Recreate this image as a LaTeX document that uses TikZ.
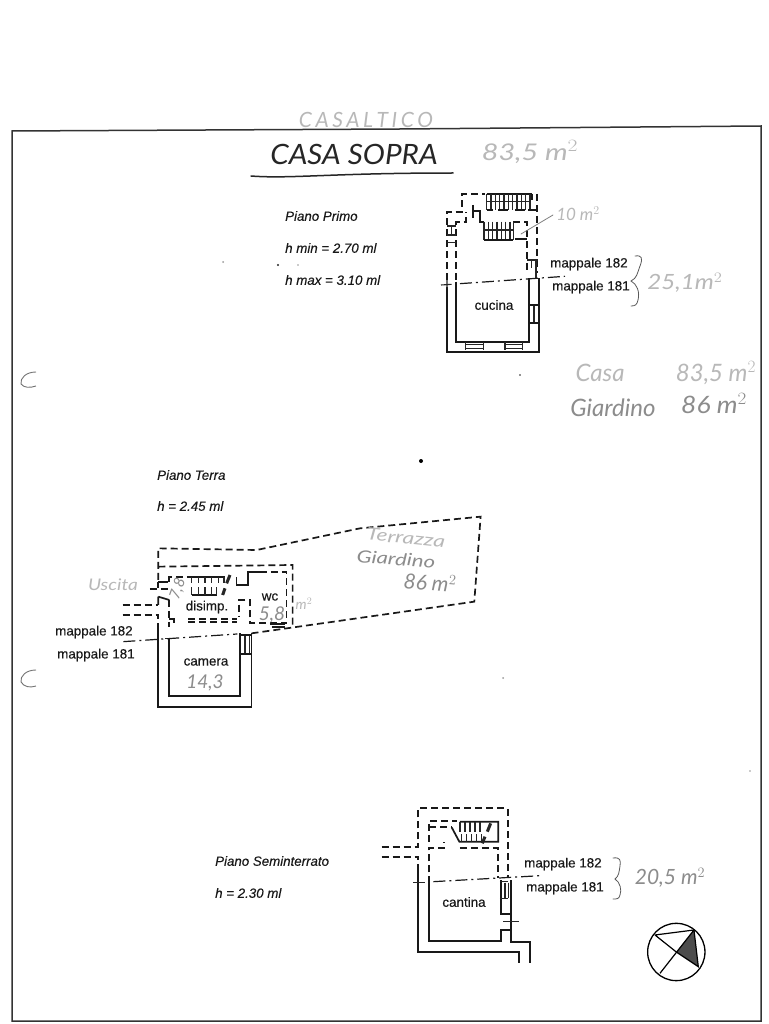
\documentclass[tikz,border=0pt]{standalone}
\usepackage{fontspec}
\setmainfont{Liberation Sans}
\newfontfamily\hand{Lato}
\newfontfamily\printed{Liberation Sans}[FakeBold=0.2]
\tikzset{
 wall/.style={line width=1.7pt,black!90,line join=miter},
 thin wall/.style={line width=1.1pt,black!85},
 hid/.style={line width=1.7pt,black!90,dash pattern=on 7pt off 4pt},
 sect/.style={line width=1.2pt,black!90,dash pattern=on 12pt off 4pt on 2pt off 4pt},
 lab/.style={font=\printed\fontsize{13.4}{13.4}\selectfont,text=black!90,inner sep=0pt},
 lev/.style={font=\printed\fontsize{13.3}{13.3}\selectfont\itshape,text=black!90,anchor=west,inner sep=0pt},
 hw/.style={font=\hand\itshape\fontsize{#1}{#1}\selectfont,text=black!45,inner sep=0pt},
 hwl/.style={font=\hand\itshape\fontsize{#1}{#1}\selectfont,text=black!28,inner sep=0pt},
 pen/.style={line width=.8pt,black!50,line cap=round},
 zoomed/.style={x=.3333pt,y=-.3333pt}
}
\begin{document}
\begin{tikzpicture}[x=1pt,y=-1pt]
\useasboundingbox (0,0) rectangle (768,1024);
\fill[white] (0,0) rectangle (768,1024);
% sheet frame
\draw[line width=1.5pt,black!80] (12,1021) -- (12,131) -- (400,129) -- (761,126) -- (761,1021) -- cycle;

% handwritten titles
\node[hwl=21] (casalt) at (366,120) {C\,A\,S\,A\,L\,T\,I\,C\,O};
\node[font=\hand\itshape\fontsize{28}{28}\selectfont,text=black!85,inner sep=0pt] (sopra) at (354,154) {\scalebox{1.06}[1]{CASA SOPRA}};
\draw[line width=1.5pt,black!85,line cap=round] (251,176) .. controls (290,179) and (330,173) .. (453,173);
\node[hwl=23] (tot) at (530,152) {\scalebox{1.25}[1]{83,5 m$^{2}$}};
\node[hwl=24] (casa) at (600,373) {Casa};
\node[hwl=24] (sup1) at (716,373) {83,5 m$^{2}$};
\node[hw=24] (giard) at (613,408) {Giardino};
\node[hw=24] (sup2) at (714,404) {\scalebox{1.1}[1]{86 m$^{2}$}};

% level captions
\node[lev] (pp) at (285,216) {Piano Primo};
\node[lev] (ppa) at (285,248) {h min = 2.70 ml};
\node[lev] (ppb) at (285,280) {h max = 3.10 ml};
\node[lev] (pt) at (157,475) {Piano Terra};
\node[lev] (pta) at (157,506) {h = 2.45 ml};
\node[lev] (ps) at (215,861) {Piano Seminterrato};
\node[lev] (psa) at (215,893) {h = 2.30 ml};

% ---------- Piano Primo
\begin{scope}[shift={(430,180)},zoomed]
 \draw[wall] (51,320) -- (51,515) -- (328,515) -- (328,295);
 \draw[wall] (78,305) -- (78,485) -- (298,485) -- (298,295);
 \draw[thin wall] (107,485) -- (107,510) (160,485) -- (160,510) (107,493) -- (160,493) (107,505) -- (160,505);
 \draw[thin wall] (225,485) -- (225,510) (278,485) -- (278,510) (225,493) -- (278,493) (225,505) -- (278,505);
 \draw[wall] (298,375) -- (328,375) (298,428) -- (328,428);
 \draw[thin wall] (312,378) -- (312,426);
 \draw[hid] (51,300) -- (51,95) -- (95,95) -- (95,42) -- (165,42);
 \draw[hid] (78,300) -- (78,125) -- (108,125) -- (108,95);
 \draw[wall] (130,75) -- (130,115) (130,92) -- (150,92) -- (150,125) -- (162,125);
 \draw[thin wall] (51,138) -- (78,138) (65,138) -- (65,165) (51,165) -- (78,165) (51,188) -- (78,188);
 \draw[hid] (320,42) -- (320,280);
 \draw[hid] (250,125) -- (290,125) -- (290,275);
 \draw[wall] (255,178) -- (290,178);
 \draw[wall] (170,42) -- (305,42) (305,42) -- (305,60);
 \foreach \p in {170,183,196,209,222,235,248,261,274,287,300}
   \draw[thin wall] (\p,42) -- (\p,90);
 \draw[wall] (170,90) -- (190,90) (205,90) -- (235,90) (255,90) -- (285,90) (295,90) -- (320,90);
 \draw[thin wall] (170,65) -- (300,65);
 \foreach \p in {162,175,188,201,214,227,240,250}
   \draw[thin wall] (\p,125) -- (\p,180);
 \draw[wall] (162,180) -- (250,180);
 \draw[thin wall] (162,150) -- (250,150);
 \draw[thin wall] (292,240) -- (325,240) (305,240) -- (305,265) (318,240) -- (318,295);
 \draw[thin wall] (33,315) -- (65,313) (51,300) -- (51,325);
 \coordinate (pa) at (90,311);
 \coordinate (pb) at (405,289);
 \draw[sect] (pa) -- (pb);
\end{scope}
\node[lab] (c) at (494,305) {cucina};
\node[lab,anchor=west] (m1) at (550,264) {mappale 182};
\node[lab,anchor=west] (m2) at (552,287) {mappale 181};
\draw[pen,black!65] (635,256) .. controls (642,255) and (643,258) .. (640,266) .. controls (637,274) and (637,278) .. (631,281) .. controls (637,284) and (640,292) .. (638,300) .. controls (637,305) and (635,306) .. (631,306);
\draw[pen] (521,234) -- (553,215);
\node[hwl=17] (ten) at (578,214) {10 m$^{2}$};
\node[hwl=21] (tf) at (685,283) {\scalebox{1.15}[1]{25,1m$^{2}$}};

% ---------- Piano Terra
\begin{scope}[shift={(40,500)},zoomed]
 \draw[wall] (355,375) -- (355,620) -- (635,620) -- (635,400);
 \draw[wall] (388,415) -- (388,588) -- (600,588) -- (600,400);
 \draw[wall] (600,405) -- (635,405) (600,462) -- (635,462);
 \draw[thin wall] (615,408) -- (615,460) (628,408) -- (628,460);
 % terrace
 \draw[hid] (355,240) -- (355,145) -- (650,150) -- (960,85) -- (1322,50) -- (1303,305) -- (635,400);
 \draw[hid] (355,200) -- (758,195) -- (758,380);
 \draw[hid] (388,245) -- (388,232) -- (450,232);
 \draw[wall] (590,232) -- (590,255) -- (625,255) -- (625,215) -- (660,215);
 \draw[hid] (660,215) -- (740,215) -- (740,370) -- (630,370) -- (630,300) -- (597,300) -- (597,350);
 \draw[hid] (330,268) -- (385,268);
 \draw[wall] (355,245) -- (385,245) (355,245) -- (355,265);
 \draw[wall] (355,290) -- (388,300) (355,290) -- (355,315);
 \draw[hid] (388,300) -- (388,380);
 \draw[hid] (248,315) -- (355,315);
 \draw[hid] (248,345) -- (355,345) -- (355,380);
 \draw[wall] (388,357) -- (402,357) -- (402,370);
 \draw[hid] (445,357) -- (590,357);
 \draw[hid] (445,365) -- (590,365);
 \draw[wall] (690,372) -- (735,372) (695,382) -- (735,382);
 % stairs
 \draw[wall] (450,232) -- (555,232);
 \foreach \p in {455,475,495,515,535,552}
   \draw[thin wall] (\p,232) -- (\p,250);
 \draw[wall] (455,285) -- (530,285);
 \foreach \p in {455,475,495,515,530}
   \draw[thin wall] (\p,262) -- (\p,285);
 \draw[line width=3pt,black!85] (570,225) -- (560,250) (555,265) -- (548,285);
 \draw[thin wall] (375,415) -- (402,415);
 \coordinate (ta) at (250,425);
 \coordinate (tb) at (592,402);
 \draw[sect] (ta) -- (tb);
\end{scope}
\node[lab] (d) at (207,607) {disimp.};
\node[lab] (w) at (270,597) {wc};
\node[lab] (cam) at (206,662) {camera};
\node[lab,anchor=west] (m3) at (55,632) {mappale 182};
\node[lab,anchor=west] (m4) at (57,655) {mappale 181};
\node[hwl=16] (usc) at (113,585) {\scalebox{1.2}[1]{Uscita}};
\node[hw=15,rotate=70] (s1) at (178,589) {7,8};
\node[hw=19] (s2) at (272,615) {5,8};
\node[hwl=14] (s2m) at (304,604) {m$^{2}$};
\node[hw=19] (s3) at (205,683) {14,3};
\node[hwl=17,rotate=-6] (t1) at (406,538) {\scalebox{1.35}[1]{Terrazza}};
\node[hw=17,rotate=-4] (t2) at (396,559) {\scalebox{1.3}[1]{Giardino}};
\node[hw=21,rotate=-5] (t3) at (430,582) {86 m$^{2}$};

% ---------- Piano Seminterrato
\begin{scope}[shift={(370,790)},zoomed]
 \draw[wall] (145,240) -- (145,487) -- (447,487) -- (447,520);
 \draw[wall] (423,270) -- (423,455) -- (480,455) -- (480,520);
 \draw[wall] (178,280) -- (178,452) -- (392,452) -- (392,420) -- (423,420);
 \draw[wall] (392,270) -- (392,372) -- (423,372);
 \draw[thin wall] (390,275) -- (415,275) (390,325) -- (415,325) (405,278) -- (405,325) (415,278) -- (415,325);
 \draw[thin wall] (400,395) -- (448,395);
 \draw[hid] (35,170) -- (145,170) -- (145,55) -- (413,55) -- (413,265);
 \draw[hid] (35,200) -- (145,200) -- (145,240);
 \draw[hid] (178,280) -- (178,175) -- (222,175) -- (222,155);
 \draw[hid] (178,155) -- (178,92) -- (260,92);
 \draw[hid] (178,112) -- (245,112);
 \draw[wall] (245,112) -- (268,155) -- (385,155) -- (385,95) -- (270,95);
 \draw[hid] (270,175) -- (385,175) -- (385,265);
 \foreach \p in {270,285,300,315,330}
   \draw[thin wall] (\p,95) -- (\p,125);
 \foreach \p in {275,290,305,320,335}
   \draw[thin wall] (\p,133) -- (\p,155);
 \draw[line width=3pt,black!85] (362,100) -- (352,125) (345,140) -- (337,160);
 \draw[thin wall] (130,277) -- (165,277);
 \coordinate (sa) at (190,275);
 \coordinate (sb) at (512,257);
 \draw[sect] (sa) -- (sb);
 % north sign
 \coordinate (o) at (919,486);
 \fill[black!70] (972,420) -- (985,530) -- (o) -- cycle;
 \draw[line width=1.3pt] (o) circle[radius=86];
 \draw[line width=1.2pt] (855,435) -- (972,420) -- (985,530) -- (o) -- (855,435);
 \draw[line width=1.2pt] (870,550) -- (972,420);
\end{scope}
\node[lab] (can) at (464,902) {cantina};
\node[lab,anchor=west] (m5) at (524,864) {mappale 182};
\node[lab,anchor=west] (m6) at (526,888) {mappale 181};
\draw[pen,black!65] (613,858) .. controls (620,857) and (621,860) .. (620,866) .. controls (619,872) and (619,876) .. (615,879) .. controls (620,882) and (622,890) .. (620,895) .. controls (619,899) and (617,899) .. (613,899);
\node[hw=21] (tw) at (670,878) {20,5 m$^{2}$};

% scan specks and punch marks
\draw[line width=.9pt,black!55] (36,372) .. controls (26,372) and (20,378) .. (21,384) .. controls (24,388) and (30,388) .. (36,386);
\draw[line width=.9pt,black!55] (36,670) .. controls (26,670) and (20,676) .. (21,682) .. controls (24,687) and (30,688) .. (36,686);
\fill[black!85] (278,265) circle[radius=1.2] (298,265) circle[radius=.6] (520,375) circle[radius=.8];
\fill[black] (421,461) circle[radius=2];
\fill[black!40] (223,262) circle[radius=1] (503,678) circle[radius=1] (750,771) circle[radius=.8];
\end{tikzpicture}
\end{document}
